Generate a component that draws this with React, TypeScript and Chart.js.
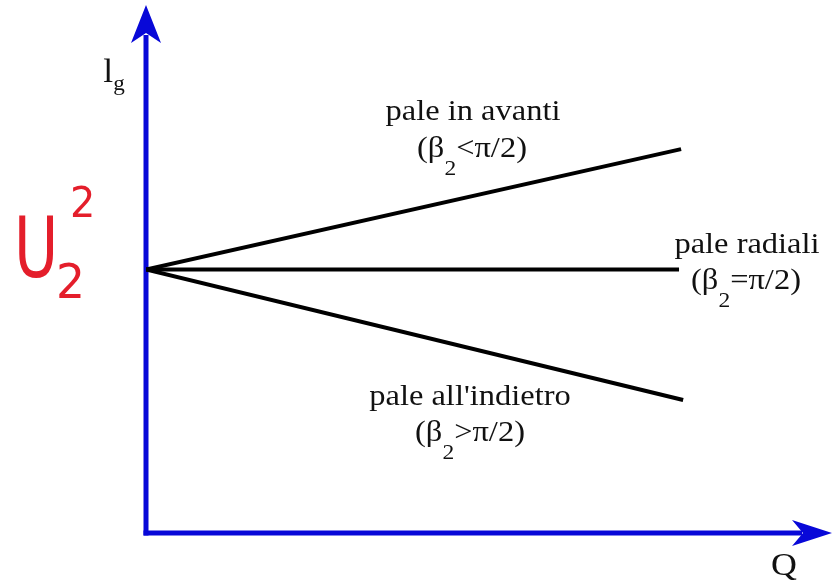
import React, { useEffect, useRef } from "react";
import { Chart, registerables } from "chart.js";

Chart.register(...registerables);

// Flow rate Q (horizontal) and head l_g (vertical), arbitrary units
const forwardQ = [0, 78.0];
const forwardHead = [49.9, 72.7];
const radialQ = [0, 77.7];
const radialHead = [49.9, 49.9];
const backwardQ = [0, 78.3];
const backwardHead = [49.9, 25.2];

const AXIS_BLUE = "#0808d8";
const SERIF = "'Liberation Serif', 'Times New Roman', serif";

type Run = { text: string; sub?: boolean };

// Draws a line of text made of normal and subscript runs, horizontally centred at cx
function drawRuns(
  ctx: CanvasRenderingContext2D,
  runs: Run[],
  cx: number,
  baseline: number,
  size: number,
  subSize: number,
  subDrop: number,
  stretch: number
) {
  const widths = runs.map((r) => {
    ctx.font = `${r.sub ? subSize : size}px ${SERIF}`;
    return ctx.measureText(r.text).width;
  });
  const total = widths.reduce((a, b) => a + b, 0) * stretch;
  let x = cx - total / 2;
  runs.forEach((r, i) => {
    ctx.save();
    ctx.font = `${r.sub ? subSize : size}px ${SERIF}`;
    ctx.translate(x, baseline + (r.sub ? subDrop : 0));
    ctx.scale(stretch, 1);
    ctx.textAlign = "left";
    ctx.textBaseline = "alphabetic";
    ctx.fillText(r.text, 0, 0);
    ctx.restore();
    x += widths[i] * stretch;
  });
}

const decorations = {
  id: "decorations",
  beforeDatasetsDraw(chart: Chart) {
    const { ctx, chartArea } = chart;
    const xs = chart.scales.x;
    const ys = chart.scales.y;
    const ox = xs.getPixelForValue(0);
    const oy = ys.getPixelForValue(0);
    const top = chartArea.top;
    const right = chartArea.right;

    ctx.save();
    ctx.strokeStyle = AXIS_BLUE;
    ctx.fillStyle = AXIS_BLUE;
    ctx.lineWidth = 5;
    ctx.lineCap = "butt";
    // vertical axis
    ctx.beginPath();
    ctx.moveTo(ox, oy + 2.5);
    ctx.lineTo(ox, top + 30);
    ctx.stroke();
    // horizontal axis
    ctx.beginPath();
    ctx.moveTo(ox - 2.5, oy);
    ctx.lineTo(right - 30, oy);
    ctx.stroke();
    // arrow heads
    ctx.beginPath();
    ctx.moveTo(ox, top);
    ctx.lineTo(ox + 15, top + 38);
    ctx.lineTo(ox, top + 28);
    ctx.lineTo(ox - 15, top + 38);
    ctx.closePath();
    ctx.fill();
    ctx.beginPath();
    ctx.moveTo(right, oy);
    ctx.lineTo(right - 40, oy - 13);
    ctx.lineTo(right - 29, oy);
    ctx.lineTo(right - 40, oy + 13);
    ctx.closePath();
    ctx.fill();
    ctx.restore();
  },
  afterDatasetsDraw(chart: Chart) {
    const { ctx } = chart;
    ctx.save();
    ctx.fillStyle = "#111";
    const S = 1.12;

    // axis titles
    drawRuns(ctx, [{ text: "l" }, { text: "g", sub: true }], 114, 82, 34, 22, 8, 1.05);
    drawRuns(ctx, [{ text: "Q" }], 784, 575, 32, 20, 0, 1.12);

    // curve labels
    drawRuns(ctx, [{ text: "pale in avanti" }], 473, 120, 29, 21, 18, S);
    drawRuns(ctx, [{ text: "(β" }, { text: "2", sub: true }, { text: "<π/2)" }], 472, 157, 29, 21, 18, S);

    drawRuns(ctx, [{ text: "pale radiali" }], 747, 253, 29, 21, 18, S);
    drawRuns(ctx, [{ text: "(β" }, { text: "2", sub: true }, { text: "=π/2)" }], 746, 289, 29, 21, 18, S);

    drawRuns(ctx, [{ text: "pale all'indietro" }], 470, 405, 29, 21, 18, S);
    drawRuns(ctx, [{ text: "(β" }, { text: "2", sub: true }, { text: ">π/2)" }], 470, 441, 29, 21, 18, S);

    // red annotation U₂²
    ctx.fillStyle = "#e41e2b";
    const hand = "'DejaVu Sans', sans-serif";
    ctx.textBaseline = "alphabetic";
    ctx.save();
    ctx.font = `84px ${hand}`;
    ctx.translate(14, 277);
    ctx.scale(0.72, 1);
    ctx.fillText("U", 0, 0);
    ctx.restore();
    ctx.save();
    ctx.font = `42px ${hand}`;
    ctx.translate(70, 217);
    ctx.scale(0.95, 1);
    ctx.fillText("2", 0, 0);
    ctx.restore();
    ctx.save();
    ctx.font = `48px ${hand}`;
    ctx.translate(56, 298);
    ctx.scale(0.95, 1);
    ctx.fillText("2", 0, 0);
    ctx.restore();
    ctx.restore();
  },
};

function toPoints(qs: number[], hs: number[]) {
  return qs.map((q, i) => ({ x: q, y: hs[i] }));
}

export default function App() {
  const canvasRef = useRef<HTMLCanvasElement | null>(null);

  useEffect(() => {
    const canvas = canvasRef.current;
    if (!canvas) return;
    const lineStyle = {
      borderColor: "#000",
      borderWidth: 4,
      pointRadius: 0,
      fill: false,
      tension: 0,
      borderCapStyle: "butt" as const,
    };
    const chart = new Chart(canvas, {
      type: "line",
      data: {
        datasets: [
          { label: "pale in avanti", data: toPoints(forwardQ, forwardHead), ...lineStyle },
          { label: "pale radiali", data: toPoints(radialQ, radialHead), ...lineStyle },
          { label: "pale all'indietro", data: toPoints(backwardQ, backwardHead), ...lineStyle },
        ],
      },
      options: {
        responsive: false,
        animation: false,
        devicePixelRatio: 1,
        layout: { padding: { left: 146, right: 0, top: 5, bottom: 53 } },
        plugins: { legend: { display: false }, tooltip: { enabled: false } },
        scales: {
          x: { type: "linear", min: 0, max: 100, display: false },
          y: { type: "linear", min: 0, max: 100, display: false },
        },
      },
      plugins: [decorations],
    });
    return () => chart.destroy();
  }, []);

  return (
    <div style={{ position: "fixed", left: 0, top: 0, width: 832, height: 586, background: "#fff" }}>
      <canvas ref={canvasRef} width={832} height={586} />
    </div>
  );
}
